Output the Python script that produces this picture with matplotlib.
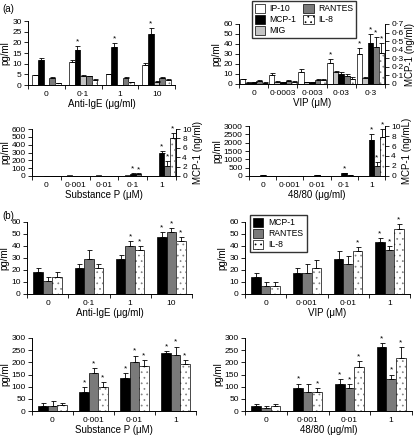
import numpy as np
import matplotlib
matplotlib.use("Agg")
import matplotlib.pyplot as plt
from matplotlib.patches import Patch

plt.rcParams['font.family'] = ['Liberation Sans', 'DejaVu Sans']
plt.rcParams['hatch.linewidth'] = 0.5

W, H = 416, 437

# ---------------- data: panel (a) ----------------
a1_cats = ['0', '0·1', '1', '10']
a1_ip10 = [4.5, 11.0, 5.0, 9.5]
a1_ip10_err = [0.4, 0.7, 0.3, 0.8]
a1_mcp1 = [11.5, 16.5, 18.0, 24.0]
a1_mcp1_err = [1.3, 1.8, 1.8, 2.5]
a1_mig = [0.0, 4.2, 0.0, 1.5]
a1_mig_err = [0.0, 0.3, 0.0, 0.2]
a1_rantes = [3.5, 4.0, 3.5, 3.5]
a1_rantes_err = [0.2, 0.2, 0.2, 0.2]
a1_il8 = [1.0, 2.5, 1.5, 2.5]
a1_il8_err = [0.1, 0.2, 0.1, 0.2]

a2_cats = ['0', '0·0003', '0·003', '0·03', '0·3']
a2_ip10 = [4.7, 9.0, 12.5, 21.0, 30.0]
a2_ip10_err = [0.5, 2.0, 3.0, 4.0, 6.0]
a2_mig = [1.5, 2.5, 2.0, 12.0, 6.5]
a2_mig_err = [0.3, 0.5, 0.5, 1.5, 1.0]
a2_mcp1_ng = [0.02, 0.02, 0.02, 0.12, 0.48]
a2_mcp1_err = [0.003, 0.003, 0.003, 0.02, 0.1]
a2_rantes = [3.5, 3.5, 4.0, 8.5, 37.0]
a2_rantes_err = [0.4, 0.6, 0.8, 2.0, 10.0]
a2_il8 = [1.5, 2.5, 4.0, 5.0, 31.0]
a2_il8_err = [0.3, 0.5, 1.0, 2.0, 10.0]

a3_cats = ['0', '0·001', '0·01', '0·1', '1']
a3_ip10 = [0, 0, 0, 0, 0]
a3_mig = [0, 12, 12, 12, 0]
a3_mcp1_ng = [0.08, 0.0, 0.08, 0.5, 4.83]
a3_mcp1_err = [0.02, 0.0, 0.02, 0.1, 0.5]
a3_rantes = [0, 0, 0, 28, 130]
a3_rantes_err = [0, 0, 0, 5, 60]
a3_il8 = [0, 0, 0, 0, 480]
a3_il8_err = [0, 0, 0, 0, 75]

a4_cats = ['0', '0·001', '0·01', '0·1', '1']
a4_ip10 = [0, 0, 0, 0, 0]
a4_mig = [0, 30, 0, 0, 0]
a4_mcp1_ng = [0.2, 0.0, 0.2, 0.6, 7.3]
a4_mcp1_err = [0.02, 0.0, 0.02, 0.08, 1.2]
a4_rantes = [20, 30, 30, 50, 600]
a4_rantes_err = [0, 0, 0, 0, 220]
a4_il8 = [0, 0, 0, 0, 2350]
a4_il8_err = [0, 0, 0, 0, 500]

# ---------------- data: panel (b) ----------------
b1_cats = ['0', '0·1', '1', '10']
b1_mcp1 = [18.0, 21.5, 29.0, 47.5]
b1_mcp1_err = [4.0, 3.5, 3.5, 4.0]
b1_rantes = [10.5, 29.5, 40.0, 51.5]
b1_rantes_err = [3.5, 7.0, 4.0, 3.5]
b1_il8 = [14.0, 22.0, 37.0, 44.0]
b1_il8_err = [4.0, 3.0, 3.0, 3.5]

b2_cats = ['0', '0·001', '0·01', '1']
b2_mcp1 = [14.0, 17.5, 29.0, 43.5]
b2_mcp1_err = [3.5, 4.0, 7.0, 3.5]
b2_rantes = [6.5, 17.5, 25.0, 36.5]
b2_rantes_err = [3.5, 7.5, 7.0, 3.5]
b2_il8 = [6.5, 21.5, 36.0, 54.5]
b2_il8_err = [3.5, 7.0, 3.5, 4.0]

b3_cats = ['0', '0·001', '0·01', '1']
b3_mcp1 = [21, 80, 135, 237]
b3_mcp1_err = [12, 20, 20, 8]
b3_rantes = [19, 155, 200, 230]
b3_rantes_err = [21, 20, 28, 35]
b3_il8 = [26, 100, 183, 192]
b3_il8_err = [7, 18, 25, 18]

b4_cats = ['0', '0·001', '0·01', '1']
b4_mcp1 = [20, 95, 112, 262]
b4_mcp1_err = [10, 18, 18, 16]
b4_rantes = [12, 77, 95, 132]
b4_rantes_err = [10, 36, 17, 18]
b4_il8 = [20, 77, 180, 217]
b4_il8_err = [10, 18, 25, 45]

# ---------------- styles ----------------
STY = {
    'IP-10': dict(facecolor='white', hatch=None),
    'MCP-1': dict(facecolor='black', hatch=None),
    'MIG': dict(facecolor='#c4c4c4', hatch=None),
    'RANTES': dict(facecolor='#7a7a7a', hatch=None),
    'IL-8': dict(facecolor='white', hatch='...'),
}
HATCH_COL = '#808080'
FS_T = 6.0
FS_L = 7.0


def rect(l, r, t, b):
    return [l / W, 1 - b / H, (r - l) / W, (b - t) / H]


def style_axis(ax, n, cats, xlabel):
    ax.set_xlim(-0.5, n - 0.5)
    ax.set_xticks(np.arange(n))
    ax.set_xticklabels(cats, fontsize=FS_T)
    ax.set_xticks(np.arange(n + 1) - 0.5, minor=True)
    ax.tick_params(axis='x', which='major', length=0, pad=4)
    ax.tick_params(axis='x', which='minor', length=3, width=0.6)
    ax.tick_params(axis='y', labelsize=FS_T, length=3, width=0.6, pad=1.5)
    ax.spines['top'].set_visible(False)
    ax.spines['right'].set_visible(False)
    for s in ('left', 'bottom'):
        ax.spines[s].set_linewidth(0.7)
    ax.set_xlabel(xlabel, fontsize=FS_L, labelpad=1)
    ax.set_ylabel('pg/ml', fontsize=FS_L, labelpad=1)


def draw_bars(ax, i, k, width, vals, errs, name, stars, star_off):
    n = len(vals)
    x = np.arange(n) + (i - (k - 1) / 2) * width
    st = STY[name]
    if st['hatch']:
        ax.bar(x, vals, width, facecolor=st['facecolor'], edgecolor=HATCH_COL,
               hatch=st['hatch'], linewidth=0, zorder=2)
        ax.bar(x, vals, width, facecolor='none', edgecolor='black',
               linewidth=0.5, zorder=2.1)
    else:
        ax.bar(x, vals, width, facecolor=st['facecolor'], edgecolor='black',
               linewidth=0.5, zorder=2)
    if errs is not None:
        e = np.array(errs, dtype=float)
        ax.errorbar(x, vals, yerr=[np.zeros(n), e], fmt='none', ecolor='black',
                    elinewidth=0.6, capsize=1.8, capthick=0.6, zorder=3)
    else:
        e = np.zeros(n)
    for j in stars:
        ax.text(x[j], vals[j] + e[j] + star_off, '*', ha='center', va='bottom',
                fontsize=6)


# ================= panel (a) =================
fig = plt.figure(figsize=(W / 100, H / 100), dpi=100)

# a1
ax = fig.add_axes(rect(28, 175, 21, 85))
series = [('IP-10', a1_ip10, a1_ip10_err, []),
          ('MCP-1', a1_mcp1, a1_mcp1_err, [1, 2, 3]),
          ('MIG', a1_mig, a1_mig_err, []),
          ('RANTES', a1_rantes, a1_rantes_err, []),
          ('IL-8', a1_il8, a1_il8_err, [])]
for i, (nm, v, e, s) in enumerate(series):
    draw_bars(ax, i, 5, 0.155, v, e, nm, s, 0.3)
ax.set_ylim(0, 30)
ax.set_yticks([0, 5, 10, 15, 20, 25, 30])
style_axis(ax, 4, a1_cats, 'Anti-IgE (μg/ml)')


def twin_panel(r, cats, xlabel, left_series, mcp, mcp_err, mcp_stars, ylim,
               yticks, rlim, rticks, rlabels, rname, width, soff):
    ax = fig.add_axes(rect(*r))
    axr = ax.twinx()
    n = len(cats)
    order = ['IP-10', 'MIG', 'MCP-1', 'RANTES', 'IL-8']
    for i, nm in enumerate(order):
        if nm == 'MCP-1':
            draw_bars(axr, i, 5, width, mcp, mcp_err, nm, mcp_stars,
                      soff * rlim / ylim[1])
        else:
            v, e, s = left_series[nm]
            draw_bars(ax, i, 5, width, v, e, nm, s, soff)
    ax.set_ylim(*ylim)
    ax.set_yticks(yticks)
    style_axis(ax, n, cats, xlabel)
    axr.set_ylim(0, rlim)
    axr.set_yticks(rticks)
    axr.set_yticklabels(rlabels)
    axr.tick_params(axis='y', labelsize=FS_T, length=3, width=0.6, pad=1.5)
    axr.spines['top'].set_visible(False)
    axr.spines['left'].set_visible(False)
    axr.spines['bottom'].set_visible(False)
    axr.spines['right'].set_linewidth(0.7)
    axr.set_ylabel(rname, fontsize=FS_L, labelpad=1)
    return ax, axr


# a2 VIP
twin_panel((239, 385, 24, 84), a2_cats, 'VIP (μM)',
           {'IP-10': (a2_ip10, a2_ip10_err, [3, 4]),
            'MIG': (a2_mig, a2_mig_err, []),
            'RANTES': (a2_rantes, a2_rantes_err, [4]),
            'IL-8': (a2_il8, a2_il8_err, [4])},
           a2_mcp1_ng, a2_mcp1_err, [4], (0, 60), [0, 10, 20, 30, 40, 50, 60],
           0.7, [0, 0.1, 0.2, 0.3, 0.4, 0.5, 0.6, 0.7],
           ['0', '0·1', '0·2', '0·3', '0·4', '0·5', '0·6', '0·7'],
           'MCP-1 (ng/ml)', 0.19, 0.5)

# a3 Substance P
twin_panel((32, 176, 129, 176), a3_cats, 'Substance P (μM)',
           {'IP-10': (a3_ip10, None, []),
            'MIG': (a3_mig, None, []),
            'RANTES': (a3_rantes, a3_rantes_err, [3, 4]),
            'IL-8': (a3_il8, a3_il8_err, [4])},
           a3_mcp1_ng, a3_mcp1_err, [3, 4], (0, 600),
           [0, 100, 200, 300, 400, 500, 600],
           10, [0, 2, 4, 6, 8, 10], ['0', '2', '4', '6', '8', '10'],
           'MCP-1 (ng/ml)', 0.19, 5)

# a4 48/80
twin_panel((249, 385, 126, 176), a4_cats, '48/80 (μg/ml)',
           {'IP-10': (a4_ip10, None, []),
            'MIG': (a4_mig, None, []),
            'RANTES': (a4_rantes, a4_rantes_err, [4]),
            'IL-8': (a4_il8, a4_il8_err, [4])},
           a4_mcp1_ng, a4_mcp1_err, [3, 4], (0, 3000),
           [0, 500, 1000, 1500, 2000, 2500, 3000],
           10, [0, 2, 4, 6, 8, 10], ['0', '2', '4', '6', '8', '10'],
           'MCP-1 (ng/mL)', 0.2, 30)


def make_handle(n):
    st = STY[n]
    return Patch(facecolor=st['facecolor'], edgecolor='black',
                 hatch=st['hatch'], linewidth=0.5, label=n)


# legend (a)
handles_a = [make_handle(n) for n in ['IP-10', 'MCP-1', 'MIG', 'RANTES', 'IL-8']]
fig.legend(handles=handles_a, ncol=2, loc='upper left',
           bbox_to_anchor=(252 / W, 1 - 1 / H), fontsize=6.2, frameon=True,
           fancybox=False, edgecolor='black', handlelength=1.2,
           handleheight=1.2, handletextpad=0.5, columnspacing=0.8,
           labelspacing=0.2, borderpad=0.35, borderaxespad=0)

# ================= panel (b) =================


def b_panel(r, cats, xlabel, mcp, mcpe, ran, rane, il8, il8e, stars, ylim,
            yticks, soff):
    ax = fig.add_axes(rect(*r))
    series = [('MCP-1', mcp, mcpe), ('RANTES', ran, rane), ('IL-8', il8, il8e)]
    for i, (nm, v, e) in enumerate(series):
        draw_bars(ax, i, 3, 0.23, v, e, nm, stars[i], soff)
    ax.set_ylim(*ylim)
    ax.set_yticks(yticks)
    style_axis(ax, len(cats), cats, xlabel)
    return ax


b_panel((27, 192, 222, 294), b1_cats, 'Anti-IgE (μg/ml)',
        b1_mcp1, b1_mcp1_err, b1_rantes, b1_rantes_err, b1_il8, b1_il8_err,
        [[3], [2, 3], [2, 3]], (0, 60), [0, 10, 20, 30, 40, 50, 60], 0.5)

b_panel((245, 410, 222, 294), b2_cats, 'VIP (μM)',
        b2_mcp1, b2_mcp1_err, b2_rantes, b2_rantes_err, b2_il8, b2_il8_err,
        [[3], [3], [2, 3]], (0, 60), [0, 10, 20, 30, 40, 50, 60], 0.5)

b_panel((32, 196, 338, 411), b3_cats, 'Substance P (μM)',
        b3_mcp1, b3_mcp1_err, b3_rantes, b3_rantes_err, b3_il8, b3_il8_err,
        [[1, 2, 3], [1, 2, 3], [1, 2, 3]], (0, 300),
        [0, 50, 100, 150, 200, 250, 300], 3)

b_panel((245, 412, 338, 411), b4_cats, '48/80 (μg/ml)',
        b4_mcp1, b4_mcp1_err, b4_rantes, b4_rantes_err, b4_il8, b4_il8_err,
        [[1, 2, 3], [2, 3], [1, 2, 3]], (0, 300),
        [0, 50, 100, 150, 200, 250, 300], 3)

handles_b = [make_handle(n) for n in ['MCP-1', 'RANTES', 'IL-8']]
fig.legend(handles=handles_b, ncol=1, loc='upper left',
           bbox_to_anchor=(250 / W, 1 - 215 / H), fontsize=6.2, frameon=True,
           fancybox=False, edgecolor='black', handlelength=1.2,
           handleheight=1.2, handletextpad=0.6, labelspacing=0.2,
           borderpad=0.35, borderaxespad=0)

fig.text(2 / W, 1 - 4 / H, '(a)', fontsize=7, va='top', ha='left')
fig.text(2 / W, 1 - 211 / H, '(b)', fontsize=7, va='top', ha='left')

fig.savefig('out.png', dpi=100)
